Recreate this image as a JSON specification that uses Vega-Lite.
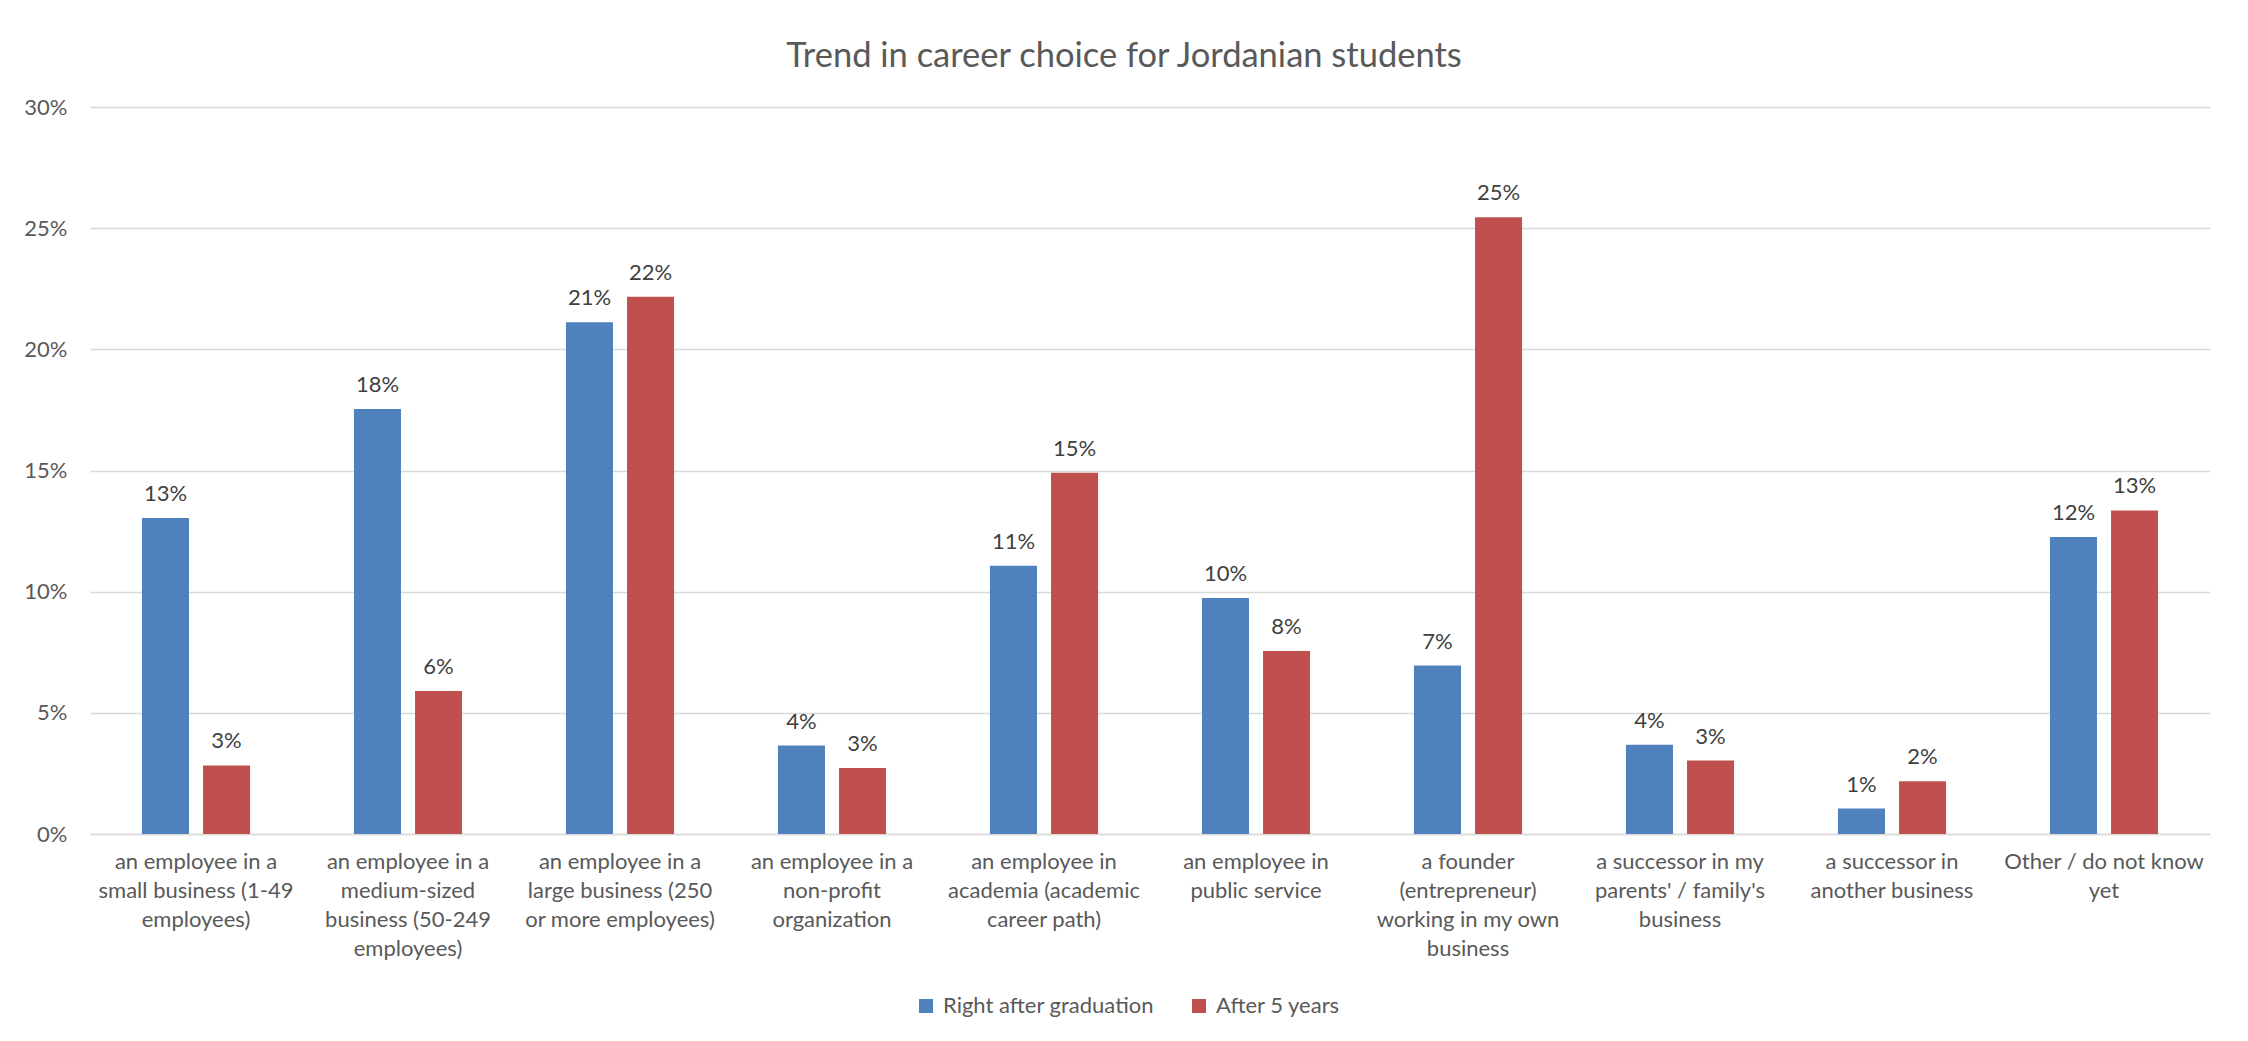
{
  "$schema": "https://vega.github.io/schema/vega-lite/v6.json",
  "width": 2120,
  "height": 727,
  "autosize": {"type": "none"},
  "padding": {"left": 90, "top": 107, "right": 38, "bottom": 207},
  "background": "white",
  "config": {
    "font": "Lato",
    "view": {"stroke": null},
    "axis": {"labelFont": "Lato", "labelColor": "#595959", "labelFontSize": 22}
  },
  "title": {
    "text": "Trend in career choice for Jordanian students",
    "font": "Lato",
    "fontSize": 34.5,
    "fontWeight": "normal",
    "color": "#595959",
    "anchor": "middle",
    "dx": -26,
    "offset": 22
  },
  "data": {
    "values": [
      {"category": "an employee in a small business (1-49 employees)", "series": "Right after graduation", "value": 0.1304},
      {"category": "an employee in a small business (1-49 employees)", "series": "After 5 years", "value": 0.0283},
      {"category": "an employee in a medium-sized business (50-249 employees)", "series": "Right after graduation", "value": 0.1754},
      {"category": "an employee in a medium-sized business (50-249 employees)", "series": "After 5 years", "value": 0.0590},
      {"category": "an employee in a large business (250 or more employees)", "series": "Right after graduation", "value": 0.2112},
      {"category": "an employee in a large business (250 or more employees)", "series": "After 5 years", "value": 0.2217},
      {"category": "an employee in a non-profit organization", "series": "Right after graduation", "value": 0.0365},
      {"category": "an employee in a non-profit organization", "series": "After 5 years", "value": 0.0272},
      {"category": "an employee in academia (academic career path)", "series": "Right after graduation", "value": 0.1107},
      {"category": "an employee in academia (academic career path)", "series": "After 5 years", "value": 0.1491},
      {"category": "an employee in public service", "series": "Right after graduation", "value": 0.0974},
      {"category": "an employee in public service", "series": "After 5 years", "value": 0.0755},
      {"category": "a founder (entrepreneur) working in my own business", "series": "Right after graduation", "value": 0.0695},
      {"category": "a founder (entrepreneur) working in my own business", "series": "After 5 years", "value": 0.2545},
      {"category": "a successor in my parents' / family's business", "series": "Right after graduation", "value": 0.0368},
      {"category": "a successor in my parents' / family's business", "series": "After 5 years", "value": 0.0303},
      {"category": "a successor in another business", "series": "Right after graduation", "value": 0.0105},
      {"category": "a successor in another business", "series": "After 5 years", "value": 0.0218},
      {"category": "Other / do not know yet", "series": "Right after graduation", "value": 0.1226},
      {"category": "Other / do not know yet", "series": "After 5 years", "value": 0.1335}
    ]
  },
  "encoding": {
    "x": {
      "field": "category",
      "type": "nominal",
      "sort": null,
      "title": null,
      "scale": {"paddingInner": 0.49, "paddingOuter": 0.245},
      "axis": {
        "labelAngle": 0,
        "labelAlign": "center",
        "labelBaseline": "top",
        "labelPadding": 17,
        "labelLineHeight": 29,
        "labelLimit": 0,
        "ticks": false,
        "grid": false,
        "domain": true,
        "domainColor": "#D9D9D9",
        "domainWidth": 1.5,
        "labelExpr": "({\"an employee in a small business (1-49 employees)\": [\"an employee in a\", \"small business (1-49\", \"employees)\"], \"an employee in a medium-sized business (50-249 employees)\": [\"an employee in a\", \"medium-sized\", \"business (50-249\", \"employees)\"], \"an employee in a large business (250 or more employees)\": [\"an employee in a\", \"large business (250\", \"or more employees)\"], \"an employee in a non-profit organization\": [\"an employee in a\", \"non-profit\", \"organization\"], \"an employee in academia (academic career path)\": [\"an employee in\", \"academia (academic\", \"career path)\"], \"an employee in public service\": [\"an employee in\", \"public service\"], \"a founder (entrepreneur) working in my own business\": [\"a founder\", \"(entrepreneur)\", \"working in my own\", \"business\"], \"a successor in my parents' / family's business\": [\"a successor in my\", \"parents' / family's\", \"business\"], \"a successor in another business\": [\"a successor in\", \"another business\"], \"Other / do not know yet\": [\"Other / do not know\", \"yet\"]})[datum.label]"
      }
    },
    "xOffset": {
      "field": "series",
      "type": "nominal",
      "sort": ["Right after graduation", "After 5 years"],
      "scale": {"paddingInner": 0.23, "paddingOuter": 0}
    },
    "y": {
      "field": "value",
      "type": "quantitative",
      "title": null,
      "scale": {"domain": [0, 0.3], "nice": false},
      "axis": {
        "values": [0, 0.05, 0.1, 0.15, 0.2, 0.25, 0.3],
        "format": ".0%",
        "domain": false,
        "ticks": false,
        "labelPadding": 23,
        "grid": true,
        "gridColor": "#D9D9D9",
        "gridWidth": 1.5
      }
    }
  },
  "layer": [
    {
      "mark": {"type": "bar"},
      "encoding": {
        "color": {
          "field": "series",
          "type": "nominal",
          "scale": {"domain": ["Right after graduation", "After 5 years"], "range": ["#4F81BD", "#C0504D"]},
          "legend": {
            "orient": "none",
            "legendX": 825,
            "legendY": 888,
            "direction": "horizontal",
            "title": null,
            "symbolType": "square",
            "symbolSize": 196,
            "symbolStrokeWidth": 0,
            "labelFont": "Lato",
            "labelFontSize": 22,
            "labelColor": "#595959",
            "labelOffset": 6,
            "labelLimit": 0,
            "columnPadding": 34
          }
        }
      }
    },
    {
      "mark": {"type": "text", "baseline": "alphabetic", "align": "center", "dy": -17, "font": "Lato", "fontSize": 22, "color": "#404040"},
      "encoding": {
        "text": {"field": "value", "type": "quantitative", "format": ".0%"}
      }
    }
  ]
}
